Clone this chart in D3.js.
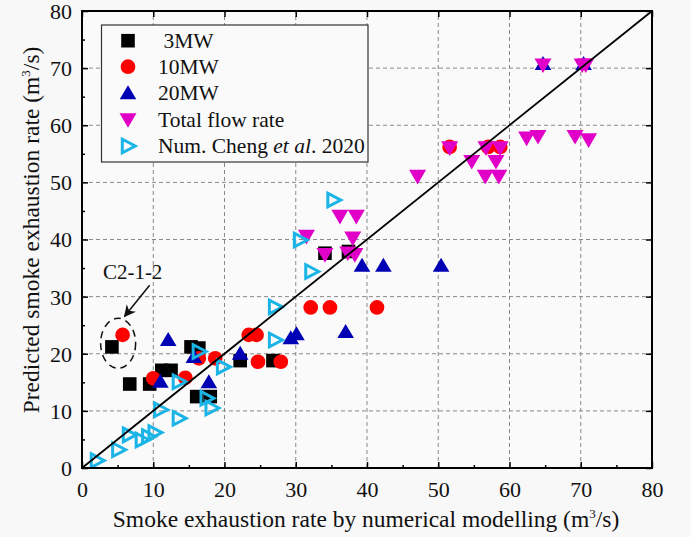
<!DOCTYPE html>
<html><head><meta charset="utf-8">
<script src="https://cdn.jsdelivr.net/npm/d3@7"></script>
<style>body{margin:0;background:#fff}svg{display:block}text{font-family:"Liberation Serif","Times New Roman",serif}</style>
</head><body><svg id="c" width="691" height="537"></svg>
<script>
const xTicks = [0,10,20,30,40,50,60,70,80];
const yTicks = [0,10,20,30,40,50,60,70,80];
const seriesNames = [" 3MW","10MW","20MW","Total flow rate","Num. Cheng et al. 2020"];
const mw3 = [[4.2,21.2],[6.7,14.7],[9.5,14.7],[11.2,17.1],[12.5,17.1],[15.3,21.2],[16.4,21.0],[16.1,12.5],[18.0,12.5],[22.2,18.8],[26.8,18.8],[34.1,37.6],[37.4,37.9]];
const mw10 = [[5.7,23.3],[10.0,15.7],[14.5,15.8],[16.4,19.2],[18.7,19.2],[23.4,23.3],[24.5,23.3],[24.7,18.6],[27.9,18.6],[32.1,28.1],[34.8,28.1],[41.4,28.1],[51.6,56.2],[57.0,56.2],[58.7,56.2]];
const mw20 = [[11.0,15.2],[12.1,22.5],[15.7,19.5],[17.8,15.1],[22.2,20.1],[29.3,22.8],[30.1,23.5],[37.0,23.9],[39.3,35.5],[42.3,35.5],[50.4,35.5],[64.7,70.8],[70.4,70.8]];
const totalFlow = [[31.5,40.5],[34.1,37.3],[36.2,44.0],[38.5,44.0],[38.0,40.2],[37.3,37.6],[38.3,37.3],[47.1,51.0],[51.6,56.0],[54.7,53.6],[56.7,56.0],[58.7,56.0],[58.1,53.6],[56.6,51.0],[58.5,51.0],[62.4,57.7],[64.0,58.0],[69.2,58.0],[71.1,57.4],[64.7,70.5],[70.2,70.5],[70.7,70.5]];
const cheng = [[2.1,1.3],[5.1,3.2],[6.6,5.8],[8.4,4.9],[9.3,5.5],[10.2,6.2],[11.0,10.2],[13.6,8.7],[13.6,15.1],[16.4,20.4],[17.5,12.2],[18.2,10.5],[19.8,17.7],[27.1,22.4],[27.1,28.2],[30.6,39.9],[32.2,34.4],[35.3,46.9]];
const annotation = {label:"C2-1-2", x:5, y:22};

const svg = d3.select("#c");
const m = {l:82, r:39, t:11, b:69};
const W = 691, H = 537;
const x = d3.scaleLinear().domain([0,80]).range([m.l, W-m.r]);
const y = d3.scaleLinear().domain([0,80]).range([H-m.b, m.t]);

svg.append("rect").attr("width",W).attr("height",H).attr("fill","#f8f8f8");
svg.append("rect").attr("x",m.l).attr("y",m.t).attr("width",W-m.l-m.r).attr("height",H-m.t-m.b).attr("fill","#fafafa");

// grid
const g = svg.append("g");
g.selectAll(".gx").data(xTicks.slice(1,-1)).join("line")
  .attr("x1",d=>x(d)).attr("x2",d=>x(d)).attr("y1",y(0)).attr("y2",y(80))
  .attr("stroke","#888").attr("stroke-width",1).attr("stroke-dasharray","4,3");
g.selectAll(".gy").data(yTicks.slice(1,-1)).join("line")
  .attr("y1",d=>y(d)).attr("y2",d=>y(d)).attr("x1",x(0)).attr("x2",x(80))
  .attr("stroke","#888").attr("stroke-width",1).attr("stroke-dasharray","4,3");

// axes
const minor = d3.range(5,80,10);
function axisStyle(sel){ sel.select(".domain").remove(); sel.selectAll("line").attr("stroke","#000").attr("stroke-width",1.5); sel.selectAll("text").style("font-size","22px").attr("fill","#111"); }
const xa = svg.append("g").attr("transform",`translate(0,${y(0)})`).call(d3.axisBottom(x).tickValues(xTicks).tickSize(-6)).call(axisStyle);
xa.selectAll("text").attr("y",29).attr("dy",null);
svg.append("g").attr("transform",`translate(0,${y(0)})`).call(d3.axisBottom(x).tickValues(minor).tickSize(-3).tickFormat("")).call(axisStyle);
const ya = svg.append("g").attr("transform",`translate(${x(0)},0)`).call(d3.axisLeft(y).tickValues(yTicks).tickSize(-6)).call(axisStyle);
ya.selectAll("text").attr("x",-10).attr("dy","0.34em");
svg.append("g").attr("transform",`translate(${x(0)},0)`).call(d3.axisLeft(y).tickValues(minor).tickSize(-3).tickFormat("")).call(axisStyle);
svg.append("g").attr("transform",`translate(0,${y(80)})`).call(d3.axisTop(x).tickValues(xTicks).tickSize(-6).tickFormat("")).call(axisStyle);
svg.append("g").attr("transform",`translate(${x(80)},0)`).call(d3.axisRight(y).tickValues(yTicks).tickSize(-6).tickFormat("")).call(axisStyle);

// clip
svg.append("clipPath").attr("id","clip").append("rect").attr("x",m.l).attr("y",m.t).attr("width",W-m.l-m.r).attr("height",H-m.t-m.b);
const plot = svg.append("g").attr("clip-path","url(#clip)");

const sq = d3.symbol().type(d3.symbolSquare).size(185)();
const circ = d3.symbol().type(d3.symbolCircle).size(170)();
const triUp = "M0,-7.5L8.3,6.5L-8.3,6.5Z";
const triDown = "M0,7.8L8.5,-6.8L-8.5,-6.8Z";
const triRight = "M7.3,0L-5.7,-6.8L-5.7,6.8Z";

const series = [
  {data:mw3, path:sq, fill:"#000", stroke:"none"},
  {data:mw10, path:circ, fill:"#f00", stroke:"none"},
  {data:mw20, path:triUp, fill:"#0000b4", stroke:"none"},
  {data:totalFlow, path:triDown, fill:"#e000c8", stroke:"none"},
  {data:cheng, path:triRight, fill:"none", stroke:"#1ab4e6", sw:3}
];
series.forEach(s=>{
  plot.append("g").selectAll("path").data(s.data).join("path")
    .attr("d",s.path).attr("transform",d=>`translate(${x(d[0])},${y(d[1])})`)
    .attr("fill",s.fill).attr("stroke",s.stroke).attr("stroke-width",s.sw||0).attr("stroke-linejoin","miter");
});

// diagonal
plot.append("line").attr("x1",x(0)).attr("y1",y(0)).attr("x2",x(80)).attr("y2",y(80)).attr("stroke","#000").attr("stroke-width",1.8);

// frame
svg.append("rect").attr("x",m.l).attr("y",m.t).attr("width",W-m.l-m.r).attr("height",H-m.t-m.b).attr("fill","none").attr("stroke","#000").attr("stroke-width",2);

// annotation
svg.append("ellipse").attr("cx",x(annotation.x)+0.5).attr("cy",y(annotation.y)+1).attr("rx",17.5).attr("ry",25)
  .attr("fill","none").attr("stroke","#111").attr("stroke-width",1.5).attr("stroke-dasharray","7,5");
svg.append("text").attr("x",x(annotation.x)+15).attr("y",y(annotation.y)-63).attr("text-anchor","middle").style("font-size","21px").attr("fill","#111").text(annotation.label);
svg.append("defs").append("marker").attr("id","ah").attr("viewBox","0 0 10 10").attr("refX",9).attr("refY",5).attr("markerWidth",8).attr("markerHeight",8).attr("orient","auto")
  .append("path").attr("d","M0,0L10,5L0,10L3,5Z").attr("fill","#111");
svg.append("line").attr("x1",x(annotation.x)+32).attr("y1",y(annotation.y)-57).attr("x2",x(annotation.x)+7).attr("y2",y(annotation.y)-26)
  .attr("stroke","#111").attr("stroke-width",1.5).attr("marker-end","url(#ah)");

// legend
const lg = svg.append("g");
lg.append("rect").attr("x",101.5).attr("y",25).attr("width",266.5).attr("height",137).attr("fill","#fafafa").attr("stroke","#333").attr("stroke-width",1.2);
const rows = [40.7,66.7,92.7,120,146];
series.forEach((s,i)=>{
  lg.append("path").attr("d",s.path).attr("transform",`translate(128,${rows[i]})`).attr("fill",s.fill).attr("stroke",s.stroke).attr("stroke-width",s.sw||0);
});
seriesNames.forEach((n,i)=>{
  const t = lg.append("text").attr("x",158).attr("y",rows[i]+7).style("font-size","21.5px").attr("fill","#111").attr("xml:space","preserve");
  if(n.includes("et al.")){
    t.append("tspan").text("Num. Cheng ");
    t.append("tspan").style("font-style","italic").text("et al");
    t.append("tspan").text(". 2020");
  } else t.text(n);
});

// axis titles
const xt = svg.append("text").attr("x",366).attr("y",527).attr("text-anchor","middle").style("font-size","23.5px").attr("fill","#111");
xt.append("tspan").text("Smoke exhaustion rate by numerical modelling (m");
xt.append("tspan").attr("dy",-9).style("font-size","13px").text("3");
xt.append("tspan").attr("dy",9).text("/s)");
const yt = svg.append("text").attr("transform",`translate(39,230) rotate(-90)`).attr("text-anchor","middle").style("font-size","23.5px").attr("fill","#111");
yt.append("tspan").text("Predicted smoke exhaustion rate (m");
yt.append("tspan").attr("dy",-9).style("font-size","13px").text("3");
yt.append("tspan").attr("dy",9).text("/s)");
</script></body></html>
